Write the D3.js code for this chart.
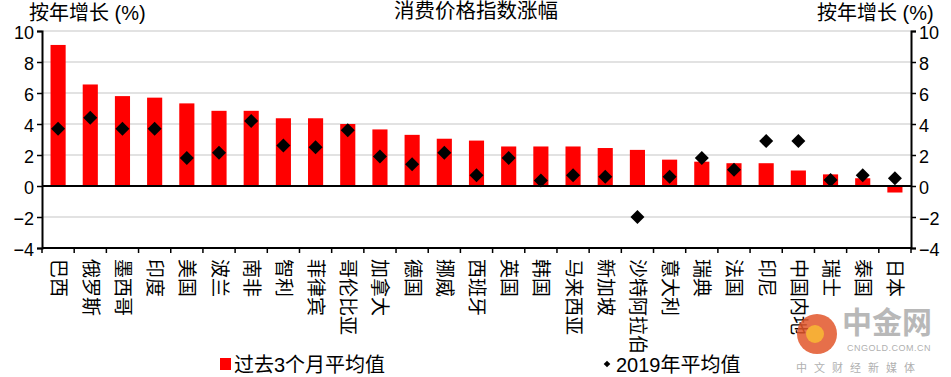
<!DOCTYPE html>
<html><head><meta charset="utf-8">
<script src="https://cdn.jsdelivr.net/npm/d3@7"></script>
<style>
body{margin:0;background:#fff;}
text{font-family:"Liberation Sans","Noto Sans CJK SC",sans-serif;}
</style></head>
<body>
<svg id="c" width="951" height="377"></svg>
<script>
const categories = ["巴西","俄罗斯","墨西哥","印度","美国","波兰","南非","智利","菲律宾","哥伦比亚","加拿大","德国","挪威","西班牙","英国","韩国","马来西亚","新加坡","沙特阿拉伯","意大利","瑞典","法国","印尼","中国内地","瑞士","泰国","日本"];
const last3m = [9.1,6.55,5.8,5.7,5.33,4.85,4.85,4.37,4.37,4.0,3.65,3.3,3.05,2.93,2.55,2.55,2.55,2.45,2.33,1.7,1.57,1.47,1.47,1.0,0.75,0.5,-0.42];
const avg2019 = [3.7,4.4,3.7,3.7,1.8,2.15,4.2,2.62,2.5,3.6,1.9,1.4,2.15,0.7,1.8,0.35,0.7,0.6,-2.0,0.6,1.8,1.05,2.9,2.9,0.38,0.7,0.5];
const yTicks = [-4,-2,0,2,4,6,8,10];
const titleText = "消费价格指数涨幅";
const axisTitle = "按年增长 (%)";
const legendNames = ["过去3个月平均值","2019年平均值"];

const svg = d3.select("#c");
const L = 42, R = 911, T = 31, B = 248;
const x = d3.scaleBand().domain(categories).range([L, R]).paddingInner(0.53).paddingOuter(0.265);
const y = d3.scaleLinear().domain([-4, 10]).range([B, T]);

// gridlines
svg.append("g").selectAll("line").data(yTicks.filter(d => d !== 0 && d !== -4)).join("line")
  .attr("x1", L).attr("x2", R).attr("y1", d => y(d)).attr("y2", d => y(d))
  .attr("stroke", "#d9d9d9").attr("stroke-width", 1.5);

// bars
svg.append("g").selectAll("rect").data(categories).join("rect")
  .attr("x", d => x(d))
  .attr("width", x.bandwidth())
  .attr("y", (d, i) => y(Math.max(0, last3m[i])))
  .attr("height", (d, i) => Math.abs(y(last3m[i]) - y(0)))
  .attr("fill", "#ff0000");

// zero line
svg.append("line").attr("x1", L).attr("x2", R).attr("y1", y(0)).attr("y2", y(0))
  .attr("stroke", "#000").attr("stroke-width", 2);

// diamonds
svg.append("g").selectAll("path").data(categories).join("path")
  .attr("d", d3.symbol().type(d3.symbolSquare).size(98))
  .attr("transform", (d, i) => `translate(${x(d) + x.bandwidth() / 2},${y(avg2019[i])}) rotate(45)`)
  .attr("fill", "#000");

// axes
const yl = d3.axisLeft(y).tickValues(yTicks).tickSize(5).tickFormat(d3.format("d"));
const yr = d3.axisRight(y).tickValues(yTicks).tickSize(5).tickFormat(d3.format("d"));
const gl = svg.append("g").attr("transform", `translate(${L},0)`).call(yl);
const gr = svg.append("g").attr("transform", `translate(${R},0)`).call(yr);
[gl, gr].forEach(g => {
  g.select(".domain").attr("stroke", "#000").attr("stroke-width", 2);
  g.selectAll(".tick line").attr("stroke", "#000").attr("stroke-width", 1.5);
  g.selectAll(".tick text").attr("font-size", 18).attr("fill", "#000")
    .attr("font-family", "Liberation Sans, sans-serif").attr("dy", "0.42em");
});
gl.selectAll(".tick text").attr("x", -8);
gr.selectAll(".tick text").attr("x", 8);

// bottom axis with separators
svg.append("line").attr("x1", L).attr("x2", R).attr("y1", B).attr("y2", B)
  .attr("stroke", "#000").attr("stroke-width", 2);
const step = x.step();
svg.append("g").selectAll("line").data(d3.range(categories.length + 1)).join("line")
  .attr("x1", i => L + i * step).attr("x2", i => L + i * step)
  .attr("y1", B).attr("y2", B + 5).attr("stroke", "#000").attr("stroke-width", 1.5);

// category labels rotated
svg.append("g").selectAll("text").data(categories).join("text")
  .attr("transform", d => `translate(${x(d) + x.bandwidth() / 2},${B + 11}) rotate(90)`)
  .attr("text-anchor", "start")
  .attr("dominant-baseline", "central")
  .attr("font-size", 19)
  .attr("fill", "#000")
  .text(d => d);

// titles
svg.append("text").attr("x", 476).attr("y", 18).attr("text-anchor", "middle")
  .attr("font-size", 20.5).attr("fill", "#000").text(titleText);
svg.append("text").attr("x", 29).attr("y", 20).attr("font-size", 20).attr("fill", "#000").text(axisTitle);
svg.append("text").attr("x", 817).attr("y", 20).attr("font-size", 20).attr("fill", "#000").text(axisTitle);

// watermark
const wm = svg.append("g");
wm.append("circle").attr("cx", 817).attr("cy", 334).attr("r", 20).attr("fill", "#e2562a").attr("opacity", 0.85);
wm.append("circle").attr("cx", 815).attr("cy", 334).attr("r", 9).attr("fill", "#f7b535").attr("opacity", 0.9);
wm.append("text").attr("x", 842).attr("y", 333).attr("font-size", 30).attr("font-weight", "bold").attr("fill", "#b8b8b8").text("中金网");
wm.append("text").attr("x", 847).attr("y", 351).attr("font-size", 9).attr("fill", "#b0b0b0").attr("letter-spacing", 0.5).text("CNGOLD.COM.CN");
wm.append("text").attr("x", 796).attr("y", 372).attr("font-size", 11).attr("fill", "#b0b0b0").attr("letter-spacing", 7).text("中文财经新媒体");

// legend
svg.append("rect").attr("x", 220).attr("y", 358).attr("width", 11).attr("height", 12).attr("fill", "#ff0000");
svg.append("text").attr("x", 234).attr("y", 372).attr("font-size", 20).attr("fill", "#000").text(legendNames[0]);
svg.append("path").attr("d", d3.symbol().type(d3.symbolSquare).size(22)())
  .attr("transform", "translate(607,364) rotate(45)").attr("fill", "#000");
svg.append("text").attr("x", 616).attr("y", 372).attr("font-size", 20).attr("fill", "#000").text(legendNames[1]);
</script>
</body></html>
